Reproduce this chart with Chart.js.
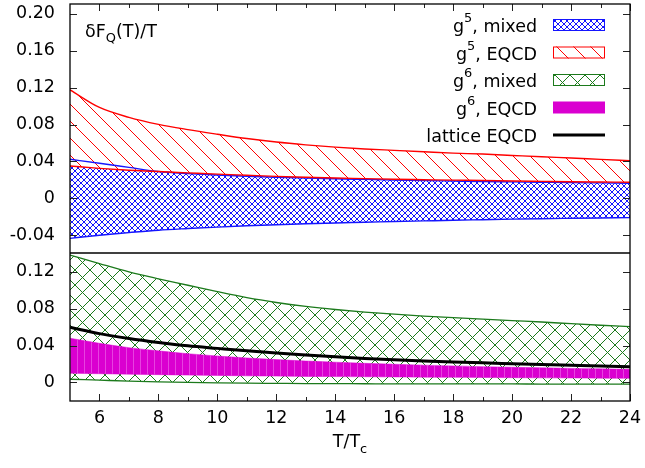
<!DOCTYPE html>
<html>
<head>
<meta charset="UTF-8" />
<title>delta F_Q(T)/T</title>
<style>
  body { margin: 0; background: #fff; }
  #chart { display: block; }
</style>
</head>
<body>
<canvas id="chart" width="645" height="468"></canvas>
<script src="https://cdn.jsdelivr.net/npm/chart.js@4"></script>
<script>
// T/Tc sample points
const temps = [5, 6, 7, 8, 9, 10, 11, 12, 13, 14, 15, 16, 17, 18, 19, 20, 21, 22, 23, 24];

// upper panel: g^5 bands
const g5MixedHi = [0.0423, 0.038, 0.0335, 0.029, 0.0268, 0.0253, 0.024, 0.0229, 0.022, 0.0212, 0.0205, 0.0198, 0.0192, 0.0187, 0.0182, 0.0178, 0.0174, 0.017, 0.0167, 0.0164];
const g5MixedLo = [-0.0434, -0.040, -0.0372, -0.0346, -0.0328, -0.0312, -0.0298, -0.0286, -0.0276, -0.0267, -0.026, -0.0252, -0.0245, -0.0238, -0.0232, -0.0226, -0.0221, -0.0217, -0.0213, -0.0209];
const g5EqcdHi = [0.1175, 0.0985, 0.0878, 0.0802, 0.0745, 0.0695, 0.0648, 0.061, 0.058, 0.0555, 0.0535, 0.052, 0.0505, 0.049, 0.048, 0.0465, 0.045, 0.0437, 0.0422, 0.0408];
const g5EqcdLo = [0.035, 0.0325, 0.0305, 0.029, 0.0276, 0.0262, 0.025, 0.0238, 0.0229, 0.022, 0.0214, 0.0207, 0.0202, 0.0197, 0.0193, 0.0188, 0.0184, 0.018, 0.0177, 0.0174];

// lower panel: g^6 bands and lattice curve
const g6MixedHi = [0.1383, 0.129, 0.12, 0.1125, 0.1055, 0.0985, 0.092, 0.0868, 0.0826, 0.0792, 0.0764, 0.0741, 0.0721, 0.0703, 0.0687, 0.0671, 0.0656, 0.0638, 0.0621, 0.0605];
const g6MixedLo = [0.0035, 0.0025, 0.0015, 0.0007, 0.0001, -0.0004, -0.0008, -0.001, -0.0012, -0.0013, -0.0014, -0.0015, -0.0015, -0.0016, -0.0016, -0.0016, -0.0017, -0.0017, -0.0017, -0.0017];
const g6EqcdHi = [0.048, 0.0425, 0.0378, 0.0343, 0.0312, 0.0287, 0.0266, 0.0248, 0.0233, 0.022, 0.0208, 0.0198, 0.0188, 0.018, 0.0172, 0.0165, 0.0159, 0.0153, 0.0148, 0.0143];
const g6EqcdLo = [0.010, 0.0095, 0.009, 0.0085, 0.008, 0.0076, 0.0072, 0.0069, 0.0066, 0.0064, 0.0062, 0.006, 0.0058, 0.0056, 0.0054, 0.0052, 0.005, 0.0049, 0.0047, 0.0045];
const latticeEqcd = [0.0599, 0.053, 0.0478, 0.0435, 0.0398, 0.037, 0.0343, 0.032, 0.0298, 0.0278, 0.026, 0.0246, 0.0234, 0.0223, 0.0213, 0.0204, 0.0195, 0.0187, 0.0179, 0.0172];

// ticks
const xTicks = [6, 8, 10, 12, 14, 16, 18, 20, 22, 24];
const xMinorTicks = [7, 9, 11, 13, 15, 17, 19, 21, 23];
const topTicks = [-0.04, 0, 0.04, 0.08, 0.12, 0.16, 0.20];
const botTicks = [0, 0.04, 0.08, 0.12];

// labels
const legendLabels = ['g^5, mixed', 'g^5, EQCD', 'g^6, mixed', 'g^6, EQCD', 'lattice EQCD'];
const panelLabel = 'δF_Q(T)/T';
const xTitle = 'T/T_c';

const FONT = 'DejaVu Sans';
const FS = 17.5;
const blue = '#1515ff', red = '#ff0000', green = '#1c7a1c', magenta = '#da00d0';

// hatch patterns like gnuplot fill styles
function hatch(color, period, dirs, bg) {
  const c = document.createElement('canvas');
  c.width = c.height = period;
  const g = c.getContext('2d');
  if (bg) { g.fillStyle = bg; g.fillRect(0, 0, period, period); }
  g.strokeStyle = color;
  g.lineWidth = 1;
  g.beginPath();
  for (let k = -1; k <= 2; k++) {
    if (dirs.includes('\\')) { g.moveTo(k * period, 0); g.lineTo(k * period + period, period); }
    if (dirs.includes('/')) { g.moveTo(k * period, 0); g.lineTo(k * period - period, period); }
  }
  g.stroke();
  return g.createPattern(c, 'repeat');
}
function stripes() {
  const c = document.createElement('canvas');
  c.width = 7; c.height = 4;
  const g = c.getContext('2d');
  g.fillStyle = magenta;
  g.fillRect(0, 0, 7, 4);
  g.fillStyle = 'rgba(240,110,235,0.6)';
  g.fillRect(0, 0, 1, 4);
  return g.createPattern(c, 'repeat');
}
const blueFill = hatch(blue, 6, '\\/', null);
const redFill = hatch(red, 17, '\\', '#ffffff');
const greenFill = hatch(green, 15, '\\/', null);
const magentaFill = stripes();

const pts = arr => temps.map((t, i) => ({ x: t, y: arr[i] }));
const curve = (arr, axis, color, width, fill, bg) => ({
  data: pts(arr),
  yAxisID: axis,
  borderColor: color,
  borderWidth: width,
  pointRadius: 0,
  cubicInterpolationMode: 'monotone',
  fill: fill || false,
  backgroundColor: bg || 'transparent',
});

// text with ^x superscript and _x subscript
function richText(ctx, str, x, y, size, align) {
  const parts = [];
  for (let i = 0; i < str.length; i++) {
    const ch = str[i];
    if ((ch === '^' || ch === '_') && i + 1 < str.length) {
      parts.push({ t: str[i + 1], k: ch });
      i++;
    } else if (parts.length && !parts[parts.length - 1].k) {
      parts[parts.length - 1].t += ch;
    } else {
      parts.push({ t: ch, k: null });
    }
  }
  const small = size * 0.74;
  let total = 0;
  parts.forEach(p => {
    ctx.font = (p.k ? small : size) + 'px "' + FONT + '"';
    p.w = ctx.measureText(p.t).width;
    total += p.w;
  });
  let cx = align === 'right' ? x - total : align === 'center' ? x - total / 2 : x;
  ctx.textAlign = 'left';
  ctx.textBaseline = 'alphabetic';
  parts.forEach(p => {
    ctx.font = (p.k ? small : size) + 'px "' + FONT + '"';
    const dy = p.k === '^' ? -size * 0.55 : p.k === '_' ? size * 0.34 : 0;
    ctx.fillText(p.t, cx, y + dy);
    cx += p.w;
  });
}

const framePlugin = {
  id: 'frame',
  afterDatasetsDraw(chart) {
    const ctx = chart.ctx;
    const { x, yTop, yBot } = chart.scales;
    const a = chart.chartArea;
    ctx.save();
    ctx.strokeStyle = '#222';
    ctx.lineWidth = 1;
    ctx.beginPath();
    [[yTop, topTicks], [yBot, botTicks]].forEach(([s, ticks]) => {
      ticks.forEach(v => {
        const py = Math.round(s.getPixelForValue(v)) + 0.5;
        ctx.moveTo(a.left, py); ctx.lineTo(a.left + 7, py);
        ctx.moveTo(a.right, py); ctx.lineTo(a.right - 7, py);
      });
    });
    xTicks.forEach(v => {
      const px = Math.round(x.getPixelForValue(v)) + 0.5;
      ctx.moveTo(px, a.bottom); ctx.lineTo(px, a.bottom - 7);
      ctx.moveTo(px, a.top); ctx.lineTo(px, a.top + 7);
    });
    xMinorTicks.forEach(v => {
      const px = Math.round(x.getPixelForValue(v)) + 0.5;
      ctx.moveTo(px, a.bottom); ctx.lineTo(px, a.bottom - 4);
      ctx.moveTo(px, a.top); ctx.lineTo(px, a.top + 4);
    });
    ctx.stroke();
    ctx.strokeStyle = '#000';
    ctx.lineWidth = 1.3;
    ctx.strokeRect(a.left, a.top, a.right - a.left, a.bottom - a.top);
    ctx.beginPath();
    ctx.moveTo(a.left, yTop.bottom);
    ctx.lineTo(a.right, yTop.bottom);
    ctx.stroke();
    ctx.restore();
  },
  afterDraw(chart) {
    const ctx = chart.ctx;
    const a = chart.chartArea;
    ctx.save();
    ctx.fillStyle = '#000';
    richText(ctx, panelLabel, a.left + 15, a.top + 32.5, FS, 'left');
    richText(ctx, xTitle, (a.left + a.right) / 2, 447, FS, 'center');

    // key, top right inside the upper panel
    const swatches = [
      { fill: blueFill, border: blue },
      { fill: redFill, border: red },
      { fill: greenFill, border: green },
      { fill: magenta, border: null },
      { line: '#000' },
    ];
    const sx = 553, sw = 52, sh = 12;
    legendLabels.forEach((label, i) => {
      const cy = 25 + 27.5 * i;
      ctx.fillStyle = '#000';
      richText(ctx, label, 537, cy + 7, FS, 'right');
      const s = swatches[i];
      if (s.line) {
        ctx.strokeStyle = s.line;
        ctx.lineWidth = 3;
        ctx.beginPath();
        ctx.moveTo(sx, cy); ctx.lineTo(sx + sw, cy);
        ctx.stroke();
      } else {
        ctx.fillStyle = '#fff';
        ctx.fillRect(sx, cy - sh / 2, sw, sh);
        ctx.fillStyle = s.fill;
        ctx.fillRect(sx, cy - sh / 2, sw, sh);
        if (s.border) {
          ctx.strokeStyle = s.border;
          ctx.lineWidth = 1;
          ctx.strokeRect(sx + 0.5, cy - sh / 2 + 0.5, sw - 1, sh - 1);
        }
      }
    });
    ctx.restore();
  },
};

const tickFmt = v => (Math.abs(v) < 1e-9 ? '0' : v.toFixed(2));
const setTicks = arr => s => { s.ticks = arr.map(v => ({ value: v })); };
// no extra room for half-height tick labels at the ends of the axes
const fitY = s => { s.width = 70; s.paddingTop = 0; s.paddingBottom = 0; };
const fitX = s => { s.height = 67; s.paddingLeft = 0; s.paddingRight = 0; };

new Chart(document.getElementById('chart'), {
  type: 'line',
  data: {
    datasets: [
      curve(latticeEqcd, 'yBot', '#000', 3),
      curve(g6EqcdHi, 'yBot', 'rgba(218,0,208,0.5)', 1, '+1', magentaFill),
      curve(g6EqcdLo, 'yBot', 'rgba(218,0,208,0.5)', 1),
      curve(g6MixedHi, 'yBot', green, 1.3, '+1', greenFill),
      curve(g6MixedLo, 'yBot', green, 1.3),
      curve(g5EqcdHi, 'yTop', red, 1.4, '+1', redFill),
      curve(g5EqcdLo, 'yTop', red, 1.4),
      curve(g5MixedHi, 'yTop', blue, 1.4, '+1', blueFill),
      curve(g5MixedLo, 'yTop', blue, 1.4),
    ],
  },
  options: {
    responsive: false,
    animation: false,
    devicePixelRatio: 1,
    layout: { padding: { top: 4, right: 15, bottom: 0, left: 0 } },
    scales: {
      x: {
        type: 'linear',
        min: 5,
        max: 24,
        grid: { display: false, drawTicks: false },
        border: { display: false },
        ticks: { color: '#000', font: { family: FONT, size: FS }, padding: 7, autoSkip: false, maxRotation: 0 },
        afterBuildTicks: setTicks(xTicks),
        afterFit: fitX,
      },
      // stacked scales are placed bottom-up in definition order
      yBot: {
        type: 'linear',
        position: 'left',
        stack: 'panels',
        stackWeight: 148,
        min: -0.0201,
        max: 0.1405,
        grid: { display: false, drawTicks: false },
        border: { display: false },
        ticks: { color: '#000', font: { family: FONT, size: FS }, padding: 15, autoSkip: false, callback: tickFmt },
        afterBuildTicks: setTicks(botTicks),
        afterFit: fitY,
      },
      yTop: {
        type: 'linear',
        position: 'left',
        stack: 'panels',
        stackWeight: 249,
        min: -0.0593,
        max: 0.2107,
        grid: { display: false, drawTicks: false },
        border: { display: false },
        ticks: { color: '#000', font: { family: FONT, size: FS }, padding: 15, autoSkip: false, callback: tickFmt },
        afterBuildTicks: setTicks(topTicks),
        afterFit: fitY,
      },
    },
    plugins: {
      legend: { display: false },
      tooltip: { enabled: false },
      filler: { drawTime: 'beforeDatasetsDraw' },
    },
  },
  plugins: [framePlugin],
});
</script>
</body>
</html>
